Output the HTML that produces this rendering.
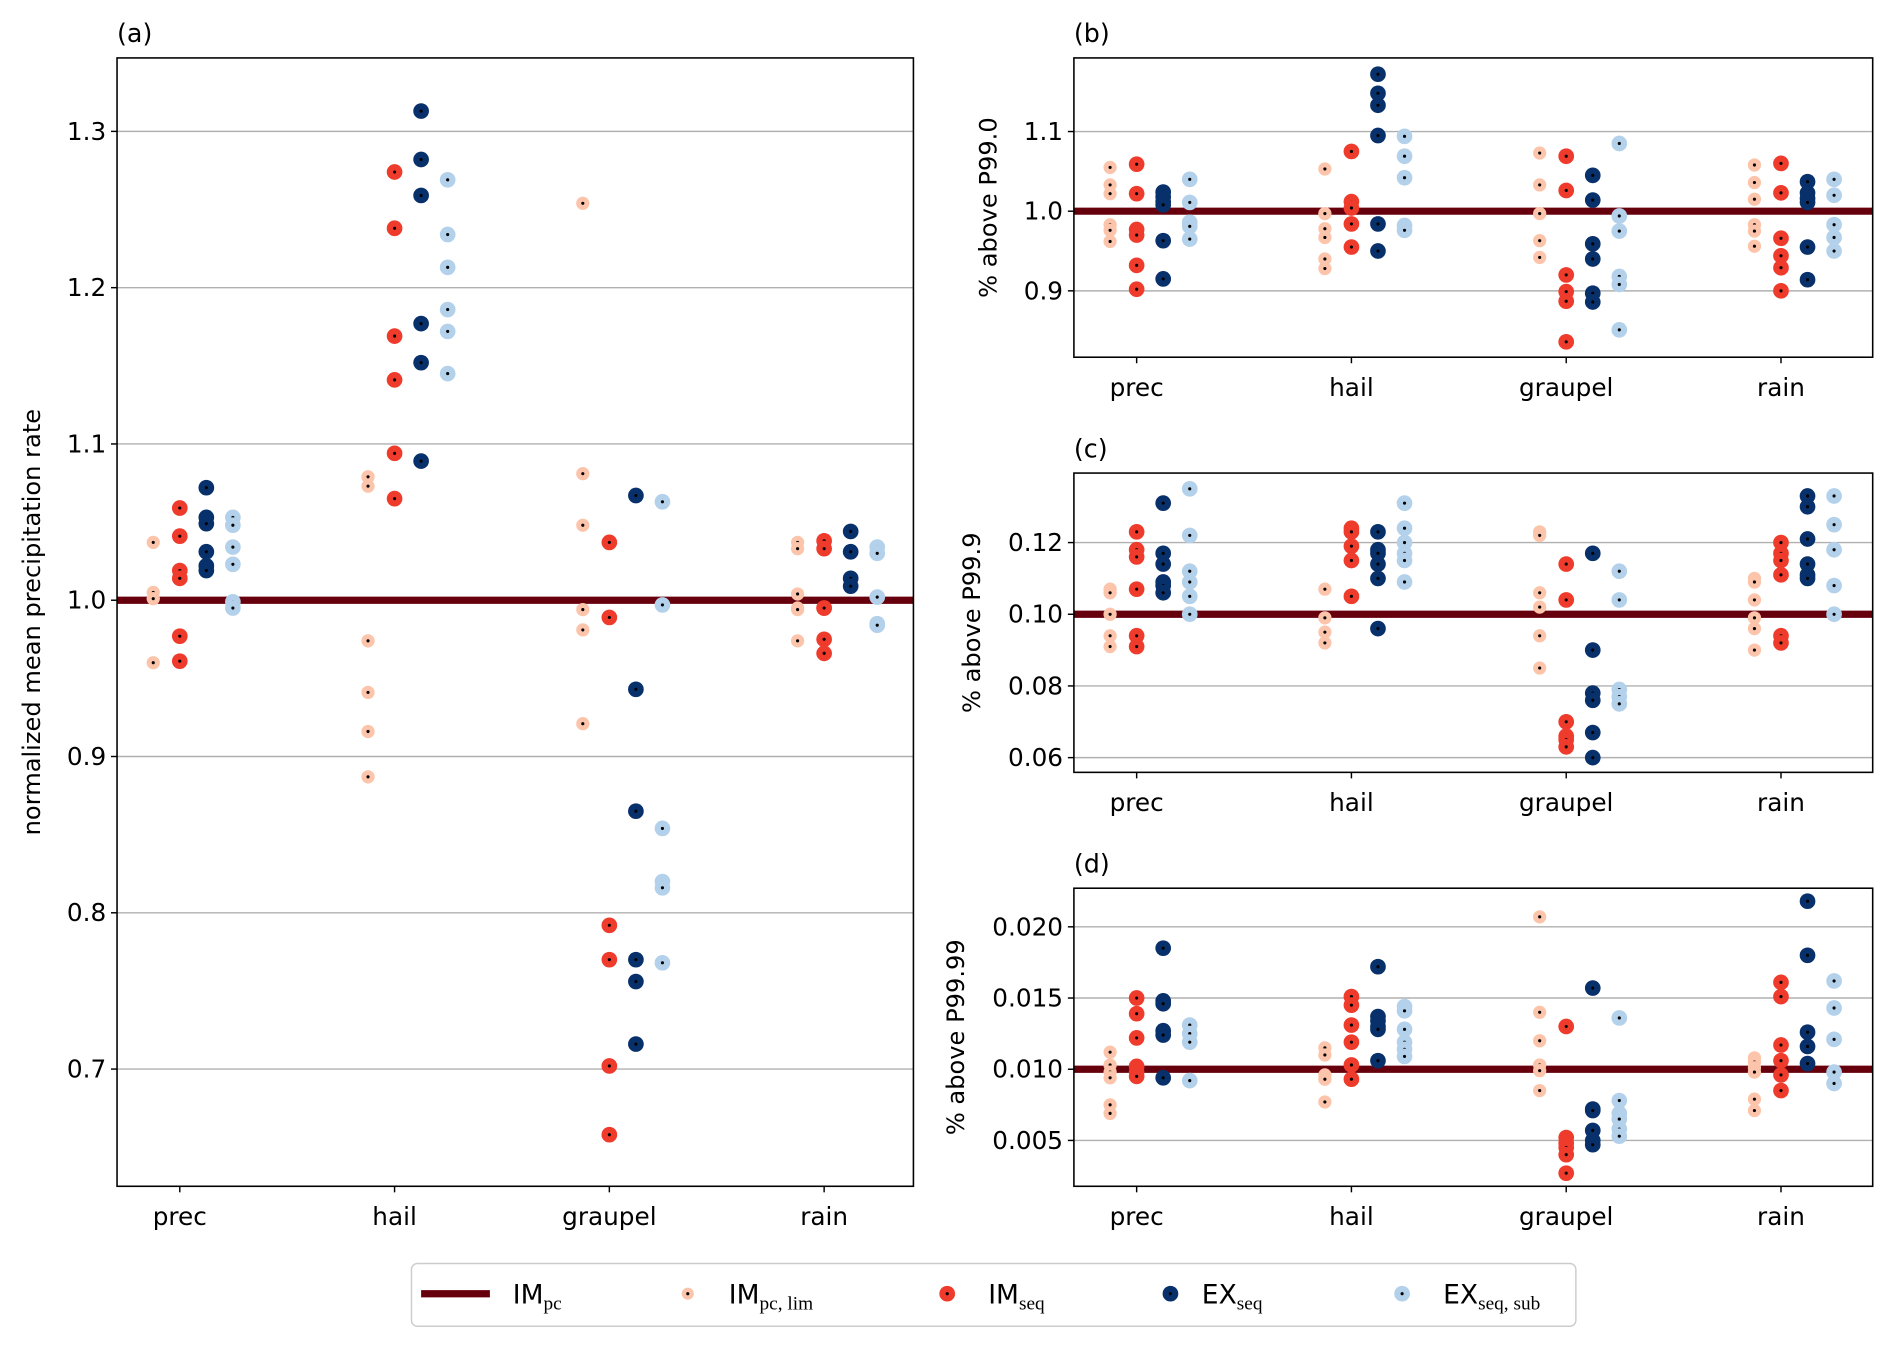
<!DOCTYPE html>
<html><head><meta charset="utf-8"><style>
html,body{margin:0;padding:0;background:#fff}
svg{display:block}
text{font-family:"DejaVu Sans","Liberation Sans",sans-serif;fill:#000}
</style></head><body>
<svg id="fig" width="1892" height="1348" viewBox="0 0 1568 1117" preserveAspectRatio="none" xmlns="http://www.w3.org/2000/svg">
<g id="legend">
<rect x="341" y="1047" width="965" height="52" rx="5" fill="#fff" stroke="#cccccc" stroke-width="1.2"/>
<g><line x1="349" y1="1072" x2="406" y2="1072" stroke="#67000d" stroke-width="6"/><text x="425" y="1080" font-size="22">IM<tspan font-family="Liberation Serif, serif" font-size="16" dy="5">pc</tspan></text></g>
<g><circle cx="570" cy="1072" r="5" fill="#fcc5ab"/><circle cx="570" cy="1072" r="1.3" fill="#000"/><text x="604" y="1080" font-size="22">IM<tspan font-family="Liberation Serif, serif" font-size="16" dy="5">pc, lim</tspan></text></g>
<g><circle cx="785" cy="1072" r="6.5" fill="#ef3b2c"/><circle cx="785" cy="1072" r="1.3" fill="#000"/><text x="819" y="1080" font-size="22">IM<tspan font-family="Liberation Serif, serif" font-size="16" dy="5">seq</tspan></text></g>
<g><circle cx="970" cy="1072" r="6.5" fill="#08306b"/><circle cx="970" cy="1072" r="1.3" fill="#000"/><text x="996" y="1080" font-size="22">EX<tspan font-family="Liberation Serif, serif" font-size="16" dy="5">seq</tspan></text></g>
<g><circle cx="1162" cy="1072" r="6.5" fill="#b3d1ea"/><circle cx="1162" cy="1072" r="1.3" fill="#000"/><text x="1196" y="1080" font-size="22">EX<tspan font-family="Liberation Serif, serif" font-size="16" dy="5">seq, sub</tspan></text></g>
</g>
</svg>
<script>
const categories = ["prec","hail","graupel","rain"];
// Panel (a) values: [prec, hail, graupel, rain]
const aLim = [[1.037,1.005,1.001,0.960],[1.079,1.073,0.974,0.941,0.916,0.887],[1.254,1.081,1.048,0.994,0.981,0.921],[1.037,1.033,1.004,0.995,0.994,0.974]];
const aSeq = [[1.059,1.041,1.019,1.014,0.977,0.961],[1.274,1.238,1.169,1.141,1.094,1.065],[1.037,0.989,0.792,0.770,0.702,0.658],[1.038,1.033,0.995,0.975,0.966,0.995]];
const aEx  = [[1.072,1.053,1.049,1.031,1.022,1.019],[1.313,1.282,1.259,1.177,1.152,1.089],[1.067,0.943,0.865,0.770,0.756,0.716],[1.044,1.031,1.014,1.009]];
const aSub = [[1.053,1.048,1.034,1.023,0.999,0.995],[1.269,1.234,1.213,1.186,1.172,1.145],[1.063,0.997,0.854,0.820,0.816,0.768],[1.034,1.030,1.002,0.985,0.984]];
const aTicks = [0.7,0.8,0.9,1.0,1.1,1.2,1.3];
// Panel (b)
const bLim = [[1.055,1.033,1.022,0.983,0.976,0.962],[1.053,0.997,0.978,0.967,0.940,0.928],[1.073,1.033,0.997,0.963,0.942],[1.058,1.036,1.015,0.983,0.975,0.956]];
const bSeq = [[1.059,1.022,0.977,0.970,0.932,0.902],[1.075,1.012,1.004,0.984,0.955],[1.069,1.026,0.920,0.899,0.887,0.836],[1.060,1.023,0.966,0.944,0.929,0.900]];
const bEx  = [[1.024,1.018,1.012,1.008,0.963,0.915],[1.172,1.148,1.133,1.095,0.984,0.950],[1.045,1.014,0.959,0.940,0.897,0.886],[1.037,1.023,1.016,1.011,0.955,0.914]];
const bSub = [[1.040,1.011,0.986,0.981,0.965],[1.094,1.069,1.042,0.982,0.976],[1.085,0.994,0.975,0.918,0.908,0.851],[1.040,1.020,0.983,0.967,0.950]];
const bTicks = [0.9,1.0,1.1];
// Panel (c)
const cLim = [[0.107,0.106,0.100,0.094,0.091],[0.107,0.099,0.095,0.092],[0.123,0.122,0.106,0.102,0.094,0.085],[0.110,0.109,0.104,0.099,0.096,0.090]];
const cSeq = [[0.123,0.118,0.116,0.107,0.094,0.091],[0.124,0.123,0.119,0.115,0.105],[0.114,0.104,0.070,0.066,0.065,0.063],[0.120,0.117,0.115,0.111,0.094,0.092]];
const cEx  = [[0.131,0.117,0.114,0.109,0.108,0.106],[0.123,0.118,0.117,0.114,0.110,0.096],[0.117,0.090,0.078,0.076,0.067,0.060],[0.133,0.130,0.121,0.114,0.111,0.110]];
const cSub = [[0.135,0.122,0.112,0.109,0.105,0.100],[0.131,0.124,0.120,0.117,0.115,0.109],[0.112,0.104,0.079,0.077,0.075],[0.133,0.125,0.118,0.108,0.100]];
const cTicks = [0.06,0.08,0.10,0.12];
// Panel (d)
const dLim = [[0.0112,0.0103,0.0098,0.0094,0.0075,0.0069],[0.0115,0.0110,0.0096,0.0093,0.0077],[0.0207,0.0140,0.0120,0.0103,0.0099,0.0085],[0.0108,0.0105,0.0101,0.0098,0.0079,0.0071]];
const dSeq = [[0.0150,0.0139,0.0122,0.0102,0.0098,0.0095],[0.0151,0.0145,0.0131,0.0119,0.0103,0.0093],[0.0130,0.0052,0.0048,0.0045,0.0040,0.0027],[0.0161,0.0151,0.0117,0.0106,0.0096,0.0085]];
const dEx  = [[0.0185,0.0148,0.0146,0.0127,0.0124,0.0094],[0.0172,0.0137,0.0134,0.0130,0.0128,0.0106],[0.0157,0.0072,0.0071,0.0057,0.0050,0.0047],[0.0218,0.0180,0.0126,0.0116,0.0104]];
const dSub = [[0.0131,0.0125,0.0119,0.0092],[0.0144,0.0141,0.0128,0.0119,0.0114,0.0109],[0.0136,0.0078,0.0069,0.0065,0.0058,0.0053],[0.0162,0.0143,0.0121,0.0098,0.0090]];
const dTicks = [0.005,0.010,0.015,0.020];
const dTickLabels = ["0.005","0.010","0.015","0.020"];

const NS="http://www.w3.org/2000/svg";
const svg=document.getElementById('fig');
function mk(tag,attrs,parent){const e=document.createElementNS(NS,tag);for(const k in attrs)e.setAttribute(k,attrs[k]);(parent||svg).appendChild(e);return e;}
const colors=["#fcc5ab","#ef3b2c","#08306b","#b3d1ea"];
const radii=[5.5,6.5,6.5,6.5];
const snames=["impc-lim","imseq","exseq","exseq-sub"];

function panel(o){
  const g=mk('g',{});
  
  
  const {x0,x1,y0,y1,ymin,ymax}=o;
  const yS=v=>y1-(v-ymin)/(ymax-ymin)*(y1-y0);
  const xS=(ci,si)=>o.cx0+ci*178+(si-1)*22;
  o.ticks.forEach((t,i)=>{
    const y=yS(t);
    const gl=mk('line',{x1:x0,x2:x1,y1:y,y2:y,stroke:'#b0b0b0','stroke-width':1.2},g);
    
    
    mk('line',{x1:x0-5,x2:x0,y1:y,y2:y,stroke:'#000','stroke-width':1.2},g);
    const tx=mk('text',{x:x0-9,y:y+7,'font-size':20.5,'text-anchor':'end'},g);
    tx.textContent=o.labels?o.labels[i]:t.toFixed(o.dec);
    
    
  });
  const ref=mk('line',{x1:x0,x2:x1,y1:yS(o.refv),y2:yS(o.refv),stroke:'#67000d','stroke-width':6},g);
  
  
  o.series.forEach((ser,si)=>{
    ser.forEach((vals,ci)=>{
      vals.forEach(v=>{
        const cx=xS(ci,si),cy=yS(v);
        const c=mk('circle',{cx:cx,cy:cy,r:radii[si],fill:colors[si]},g);
        
        
        mk('circle',{cx:cx,cy:cy,r:1.3,fill:'#000'},g);
      });
    });
  });
  const fr=mk('rect',{x:x0,y:y0,width:x1-x0,height:y1-y0,fill:'none',stroke:'#000','stroke-width':1.3},g);
  
  
  categories.forEach((c,ci)=>{
    const x=xS(ci,1);
    mk('line',{x1:x,x2:x,y1:y1,y2:y1+5,stroke:'#000','stroke-width':1.2},g);
    const t=mk('text',{x:x,y:y1+32,'font-size':20.5,'text-anchor':'middle'},g);
    t.textContent=c;
    
    
  });
  const ti=mk('text',{x:x0,y:y0-13,'font-size':21},g);
  ti.textContent='('+o.id+')';
  
  
  const yl=mk('text',{x:0,y:0,'font-size':20,'text-anchor':'middle',transform:`translate(${o.ylx},${(y0+y1)/2}) rotate(-90)`},g);
  yl.textContent=o.ylabel;
  
  
}
panel({id:'a',x0:97,x1:757,y0:48,y1:983,ymin:0.625,ymax:1.347,cx0:149,ticks:aTicks,dec:1,refv:1.0,series:[aLim,aSeq,aEx,aSub],ylx:33,ylabel:'normalized mean precipitation rate'});
panel({id:'b',x0:890,x1:1552,y0:48,y1:296,ymin:1.0-121/660,ymax:1.0+127/660,cx0:942,ticks:bTicks,dec:1,refv:1.0,series:[bLim,bSeq,bEx,bSub],ylx:826,ylabel:'% above P99.0'});
panel({id:'c',x0:890,x1:1552,y0:392,y1:640,ymin:0.10-131/2970,ymax:0.10+117/2970,cx0:942,ticks:cTicks,dec:2,refv:0.10,series:[cLim,cSeq,cEx,cSub],ylx:812,ylabel:'% above P99.9'});
panel({id:'d',x0:890,x1:1552,y0:736,y1:983,ymin:0.010-97/11800,ymax:0.010+150/11800,cx0:942,ticks:dTicks,labels:dTickLabels,refv:0.010,series:[dLim,dSeq,dEx,dSub],ylx:799,ylabel:'% above P99.99'});
svg.appendChild(document.getElementById('legend'));
</script>
</body></html>
